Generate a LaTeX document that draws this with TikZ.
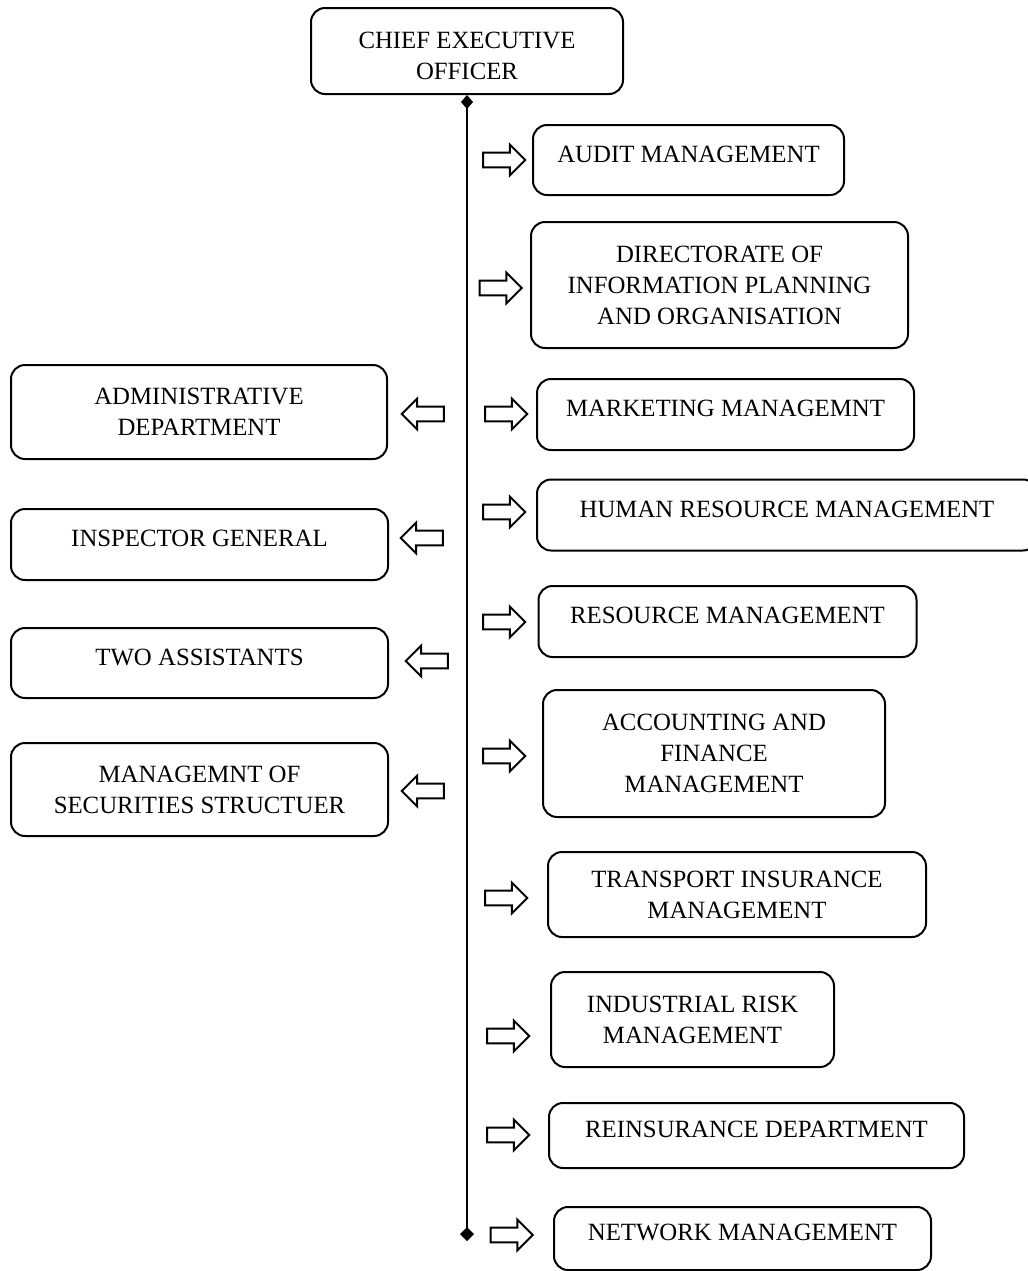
\documentclass[tikz,border=0pt]{standalone}
\usepackage{fontspec}
\setmainfont{Liberation Serif}
\usepackage{tikz}
\usetikzlibrary{shapes, arrows.meta, positioning}

\begin{document}
\begin{tikzpicture}[
    x=0.5pt, y=-0.5pt,
    font=\fontsize{12.4}{15.5}\selectfont,
    dept/.style 2 args={draw, line width=1pt, rounded corners=7pt, align=center,
        minimum width=#1*0.5pt, minimum height=#2*0.5pt, inner sep=0pt},
    oneline/.style={text depth=6pt},
    toright/.style={single arrow, draw, line width=1pt, inner sep=3.2pt,
        minimum height=21pt, minimum width=14.5pt, single arrow head extend=4pt},
    toleft/.style={toright, shape border rotate=180},
    spine/.style={line width=1pt, {Diamond[length=7pt,width=6pt]}-{Diamond[length=7pt,width=7pt]}}
]
    \useasboundingbox (0,0) rectangle (1028,1271);

    % Head
    \node[dept={312}{86}] (ceo) at (467,51)
        {\raisebox{-6.6pt}[0pt][0pt]{\begin{tabular}{@{}c@{}}CHIEF EXECUTIVE\\OFFICER\end{tabular}}};

    % Right column
    \node[dept={311}{70}, oneline] (audit) at (688.5,160) {AUDIT MANAGEMENT};
    \node[dept={377}{126}] (dipo) at (719.5,285) {DIRECTORATE OF\\INFORMATION PLANNING\\AND ORGANISATION};
    \node[dept={377}{71}, oneline] (marketing) at (725.5,414.5) {MARKETING MANAGEMNT};
    \node[dept={500}{71}, oneline] (hrm) at (787,515) {HUMAN RESOURCE MANAGEMENT};
    \node[dept={378}{71}, oneline] (resource) at (727.5,621.5) {RESOURCE MANAGEMENT};
    \node[dept={342}{127}] (accounting) at (714,753.5) {ACCOUNTING AND\\FINANCE\\MANAGEMENT};
    \node[dept={378}{85}] (transport) at (737,894.5) {TRANSPORT INSURANCE\\MANAGEMENT};
    \node[dept={283}{95}] (industrial) at (692.5,1019.5) {INDUSTRIAL RISK\\MANAGEMENT};
    \node[dept={415}{65}, oneline] (reinsurance) at (756.5,1135.5) {REINSURANCE DEPARTMENT};
    \node[dept={377}{63}, oneline] (network) at (742.5,1238.5) {NETWORK MANAGEMENT};

    % Left column
    \node[dept={376}{94}] (admin) at (199,412) {ADMINISTRATIVE\\DEPARTMENT};
    \node[dept={377}{71}, oneline] (inspector) at (199.5,544.5) {INSPECTOR GENERAL};
    \node[dept={377}{70}, oneline] (assistants) at (199.5,663) {TWO ASSISTANTS};
    \node[dept={377}{93}] (securities) at (199.5,789.5) {MANAGEMNT OF\\SECURITIES STRUCTUER};

    % Block arrows
    \node[toright] (to-audit) at (500.5,160) {};
    \node[toright] (to-dipo) at (497,288) {};
    \node[toright] (to-marketing) at (502.5,414) {};
    \node[toright] (to-hrm) at (500.5,512) {};
    \node[toright] (to-resource) at (500.5,622) {};
    \node[toright] (to-accounting) at (500.5,756) {};
    \node[toright] (to-transport) at (502.5,898) {};
    \node[toright] (to-industrial) at (504.5,1036) {};
    \node[toright] (to-reinsurance) at (504.5,1135) {};
    \node[toright] (to-network) at (508,1235) {};
    \node[toleft] (to-admin) at (426.5,414) {};
    \node[toleft] (to-inspector) at (425.5,538) {};
    \node[toleft] (to-assistants) at (430.5,661) {};
    \node[toleft] (to-securities) at (426.5,791) {};

    % Spine
    \coordinate (spinebot) at (467,1241);
    \draw[spine] (ceo.south) -- (spinebot);
\end{tikzpicture}
\end{document}
